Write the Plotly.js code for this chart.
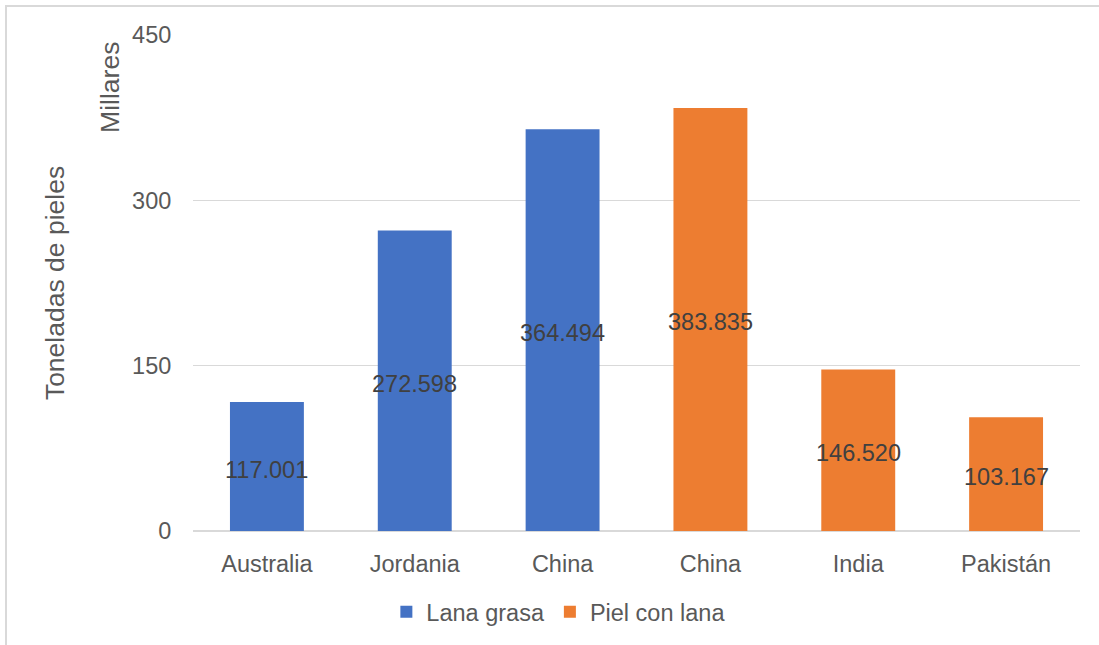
<!DOCTYPE html>
<html>
<head>
<meta charset="utf-8">
<script src="https://cdn.plot.ly/plotly-3.0.1.min.js"></script>
<style>
  html, body { margin: 0; padding: 0; background: #fff; overflow: hidden; }
  #wrap { position: relative; width: 1099px; height: 645px; }
  #chart { width: 1099px; height: 645px; }
  #frame { position: absolute; left: 5px; top: 5px; width: 1200px; height: 800px;
           border-left: 2px solid #d9d9d9; border-top: 2px solid #d9d9d9; pointer-events: none; }
</style>
</head>
<body>
<div id="wrap">
  <div id="chart"></div>
  <div id="frame"></div>
</div>
<script>
const categories = ["Australia", "Jordania", "China", "China", "India", "Pakistán"];
const lanaGrasaX = [0, 1, 2];
const lanaGrasaValues = [117.001, 272.598, 364.494];
const pielConLanaX = [3, 4, 5];
const pielConLanaValues = [383.835, 146.520, 103.167];
const yTicks = [0, 150, 300, 450];

const FONT = '"Liberation Sans", Arial, sans-serif';
const allX = lanaGrasaX.concat(pielConLanaX);
const allV = lanaGrasaValues.concat(pielConLanaValues);

const traces = [
  { type: 'bar', name: 'Lana grasa', x: lanaGrasaX, y: lanaGrasaValues, width: 0.5,
    marker: { color: '#4472C4' }, hoverinfo: 'y' },
  { type: 'bar', name: 'Piel con lana', x: pielConLanaX, y: pielConLanaValues, width: 0.5,
    marker: { color: '#ED7D31' }, hoverinfo: 'y' }
];

const labelAnnotations = allX.map((x, i) => ({
  x: x, y: allV[i] / 2, xref: 'x', yref: 'y', text: allV[i].toFixed(3),
  showarrow: false, xanchor: 'center', yanchor: 'middle', yshift: -3,
  font: { family: FONT, size: 23.5, color: '#404040' }
}));

const layout = {
  width: 1099, height: 645,
  margin: { l: 193, r: 19, t: 35, b: 113 },
  paper_bgcolor: '#ffffff', plot_bgcolor: '#ffffff',
  font: { family: FONT, color: '#595959', size: 23.5 },
  barmode: 'overlay',
  showlegend: true,
  legend: { orientation: 'h', x: 0.218, xanchor: 'left', y: -0.161, yanchor: 'middle',
            font: { family: FONT, size: 23.5, color: '#595959' }, traceorder: 'normal' },
  xaxis: { range: [-0.5, 5.5], tickvals: allX, ticktext: categories, showgrid: false,
           zeroline: false, showline: false, ticks: 'outside', ticklen: 12,
           tickcolor: 'rgba(0,0,0,0)', tickfont: { family: FONT, size: 23.5, color: '#595959' },
           fixedrange: true },
  yaxis: { range: [0, 450], tickvals: yTicks, ticktext: yTicks.map(String),
           showgrid: true, gridcolor: '#d9d9d9', gridwidth: 1.3, zeroline: true,
           zerolinecolor: '#d9d9d9', zerolinewidth: 1.5, showline: false,
           ticks: 'outside', ticklen: 16, tickcolor: 'rgba(0,0,0,0)',
           tickfont: { family: FONT, size: 23.5, color: '#595959' },
           title: { text: 'Toneladas de pieles', font: { family: FONT, size: 26.5, color: '#595959' }, standoff: 59 },
           automargin: false, fixedrange: true },
  annotations: [
    { text: 'Millares', xref: 'paper', yref: 'paper', x: (110 - 193) / 887, y: (532 - 88) / 497,
      xanchor: 'center', yanchor: 'middle', textangle: -90, showarrow: false,
      font: { family: FONT, size: 26.5, color: '#595959' } }
  ].concat(labelAnnotations)
};

Plotly.newPlot('chart', traces, layout, { displayModeBar: false, staticPlot: true });
</script>
</body>
</html>
